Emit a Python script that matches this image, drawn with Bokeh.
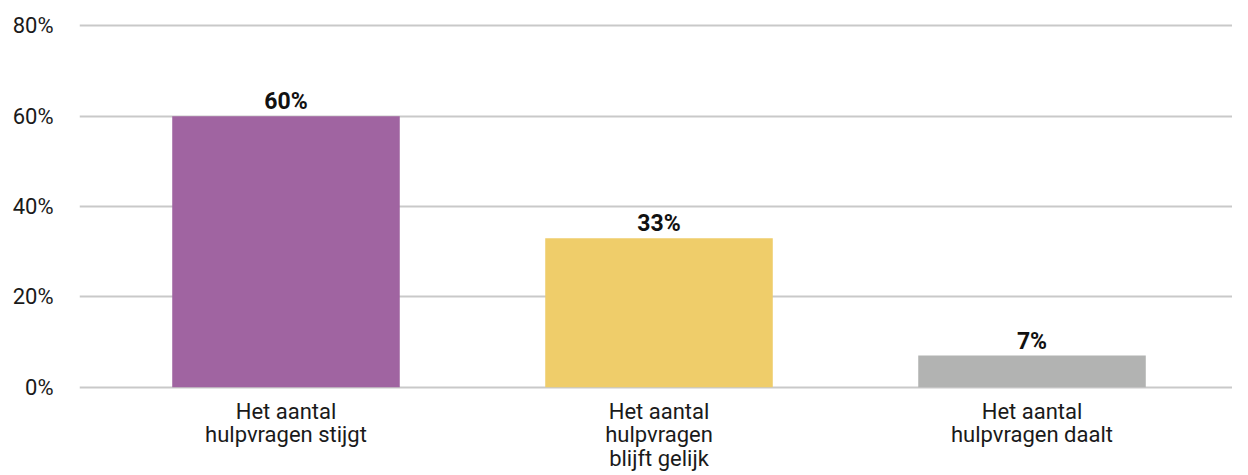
from bokeh.plotting import figure
from bokeh.models import Range1d, FixedTicker, ColumnDataSource
from bokeh.core.properties import value
from bokeh.embed import file_html
from bokeh.resources import INLINE

categories = ["Het aantal\nhulpvragen stijgt", "Het aantal\nhulpvragen\nblijft gelijk", "Het aantal\nhulpvragen daalt"]
values = [60, 33, 7]
colors = ["#A064A1", "#EFCD6A", "#B2B3B2"]
y_ticks = [0, 20, 40, 60, 80]

FONT = "Roboto"

xs = list(range(len(categories)))
src = ColumnDataSource(dict(x=xs, top=values, color=colors,
                            label=[f"{v}%" for v in values]))

p = figure(frame_width=1153, frame_height=366, output_backend="svg", toolbar_location=None,
           x_range=Range1d(-0.5536, 2.5375), y_range=Range1d(-0.5, 80.5),
           min_border_left=79, min_border_right=0, min_border_top=23, min_border_bottom=10)
p.outline_line_color = None
p.background_fill_color = "white"
p.border_fill_color = "white"

p.vbar(x="x", top="top", bottom=0, width=0.61, color="color", source=src, line_color=None)
p.text(x="x", y="top", text="label", source=src, text_align="center", text_baseline="bottom",
       y_offset=-1, text_font=value(FONT), text_font_style="bold", text_font_size="23px",
       text_color="#111111")

p.xgrid.grid_line_color = None
p.ygrid.ticker = FixedTicker(ticks=y_ticks)
p.ygrid.grid_line_color = "#C9C9C9"
p.ygrid.grid_line_width = 2

p.yaxis.ticker = FixedTicker(ticks=y_ticks)
p.yaxis.major_label_overrides = {t: f"{t}%" for t in y_ticks}
p.xaxis.ticker = FixedTicker(ticks=xs)
p.xaxis.major_label_overrides = {i: c for i, c in enumerate(categories)}

for ax in (p.xaxis[0], p.yaxis[0]):
    ax.axis_line_color = None
    ax.major_tick_line_color = None
    ax.minor_tick_line_color = None
    ax.major_label_text_font = FONT
    ax.major_label_text_color = "#1a1a1a"
p.yaxis.major_label_text_font_size = "22px"
p.xaxis.major_label_text_font_size = "22px"
p.xaxis.major_label_text_line_height = 0.95
p.yaxis.major_label_standoff = 20
p.xaxis.major_label_standoff = 3

open("out.html", "w").write(file_html(p, INLINE))
